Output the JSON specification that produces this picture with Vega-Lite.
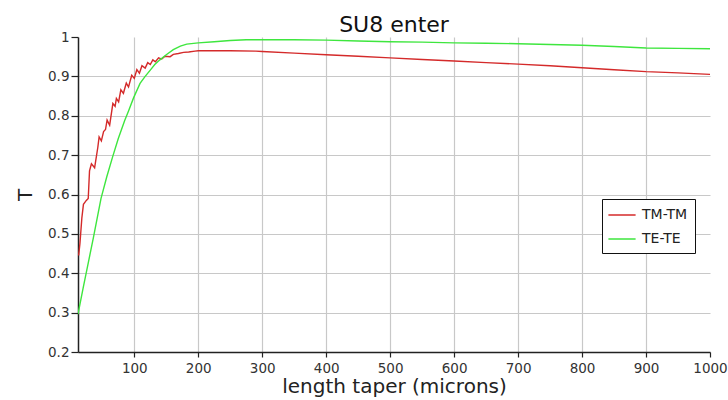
{
  "$schema": "https://vega.github.io/schema/vega-lite/v6.json",
  "width": 632,
  "height": 315,
  "autosize": {"type": "none"},
  "padding": {"left": 78, "top": 37, "right": 18, "bottom": 48},
  "background": "white",
  "title": {"text": "SU8 enter", "fontSize": 22, "font": "DejaVu Sans", "fontWeight": "normal", "color": "#111111", "offset": -7, "anchor": "middle"},
  "config": {
    "view": {"stroke": null},
    "font": "DejaVu Sans"
  },
  "data": {
    "values": [
      {"series": "TM-TM", "x": 13, "T": 0.445},
      {"series": "TM-TM", "x": 15, "T": 0.475},
      {"series": "TM-TM", "x": 18, "T": 0.54},
      {"series": "TM-TM", "x": 20.5, "T": 0.575},
      {"series": "TM-TM", "x": 25, "T": 0.585},
      {"series": "TM-TM", "x": 28, "T": 0.59},
      {"series": "TM-TM", "x": 30, "T": 0.66},
      {"series": "TM-TM", "x": 33, "T": 0.678},
      {"series": "TM-TM", "x": 38, "T": 0.668},
      {"series": "TM-TM", "x": 43, "T": 0.72},
      {"series": "TM-TM", "x": 45, "T": 0.746},
      {"series": "TM-TM", "x": 48.5, "T": 0.736},
      {"series": "TM-TM", "x": 52, "T": 0.76},
      {"series": "TM-TM", "x": 55, "T": 0.765},
      {"series": "TM-TM", "x": 57.5, "T": 0.789},
      {"series": "TM-TM", "x": 61.5, "T": 0.776},
      {"series": "TM-TM", "x": 66.5, "T": 0.831},
      {"series": "TM-TM", "x": 70, "T": 0.824},
      {"series": "TM-TM", "x": 72, "T": 0.844},
      {"series": "TM-TM", "x": 75.5, "T": 0.835},
      {"series": "TM-TM", "x": 79, "T": 0.866},
      {"series": "TM-TM", "x": 83, "T": 0.857},
      {"series": "TM-TM", "x": 87.5, "T": 0.883},
      {"series": "TM-TM", "x": 91, "T": 0.873},
      {"series": "TM-TM", "x": 96, "T": 0.903},
      {"series": "TM-TM", "x": 100, "T": 0.895},
      {"series": "TM-TM", "x": 104, "T": 0.917},
      {"series": "TM-TM", "x": 108, "T": 0.908},
      {"series": "TM-TM", "x": 112, "T": 0.927},
      {"series": "TM-TM", "x": 117, "T": 0.921},
      {"series": "TM-TM", "x": 121, "T": 0.935},
      {"series": "TM-TM", "x": 125, "T": 0.93},
      {"series": "TM-TM", "x": 129, "T": 0.942},
      {"series": "TM-TM", "x": 133, "T": 0.937},
      {"series": "TM-TM", "x": 138, "T": 0.947},
      {"series": "TM-TM", "x": 143, "T": 0.944},
      {"series": "TM-TM", "x": 148, "T": 0.951},
      {"series": "TM-TM", "x": 156, "T": 0.95},
      {"series": "TM-TM", "x": 161, "T": 0.956},
      {"series": "TM-TM", "x": 169, "T": 0.958},
      {"series": "TM-TM", "x": 177, "T": 0.961},
      {"series": "TM-TM", "x": 185, "T": 0.962},
      {"series": "TM-TM", "x": 195, "T": 0.964},
      {"series": "TM-TM", "x": 200, "T": 0.965},
      {"series": "TM-TM", "x": 250, "T": 0.965},
      {"series": "TM-TM", "x": 290, "T": 0.964},
      {"series": "TM-TM", "x": 300, "T": 0.963},
      {"series": "TM-TM", "x": 350, "T": 0.959},
      {"series": "TM-TM", "x": 400, "T": 0.955},
      {"series": "TM-TM", "x": 450, "T": 0.951},
      {"series": "TM-TM", "x": 500, "T": 0.947},
      {"series": "TM-TM", "x": 550, "T": 0.943},
      {"series": "TM-TM", "x": 600, "T": 0.939},
      {"series": "TM-TM", "x": 650, "T": 0.935},
      {"series": "TM-TM", "x": 700, "T": 0.931},
      {"series": "TM-TM", "x": 750, "T": 0.927},
      {"series": "TM-TM", "x": 800, "T": 0.922},
      {"series": "TM-TM", "x": 850, "T": 0.917},
      {"series": "TM-TM", "x": 900, "T": 0.912},
      {"series": "TM-TM", "x": 950, "T": 0.909},
      {"series": "TM-TM", "x": 1000, "T": 0.905},
      {"series": "TE-TE", "x": 12, "T": 0.296},
      {"series": "TE-TE", "x": 20, "T": 0.362},
      {"series": "TE-TE", "x": 29, "T": 0.434},
      {"series": "TE-TE", "x": 36, "T": 0.49},
      {"series": "TE-TE", "x": 42, "T": 0.54},
      {"series": "TE-TE", "x": 48, "T": 0.59},
      {"series": "TE-TE", "x": 57, "T": 0.645},
      {"series": "TE-TE", "x": 66, "T": 0.695},
      {"series": "TE-TE", "x": 75, "T": 0.742},
      {"series": "TE-TE", "x": 85, "T": 0.788},
      {"series": "TE-TE", "x": 91, "T": 0.812},
      {"series": "TE-TE", "x": 99, "T": 0.846},
      {"series": "TE-TE", "x": 109, "T": 0.882},
      {"series": "TE-TE", "x": 117, "T": 0.9},
      {"series": "TE-TE", "x": 125, "T": 0.916},
      {"series": "TE-TE", "x": 132, "T": 0.93},
      {"series": "TE-TE", "x": 140, "T": 0.942},
      {"series": "TE-TE", "x": 150, "T": 0.955},
      {"series": "TE-TE", "x": 161, "T": 0.968},
      {"series": "TE-TE", "x": 172, "T": 0.977},
      {"series": "TE-TE", "x": 182, "T": 0.982},
      {"series": "TE-TE", "x": 200, "T": 0.985},
      {"series": "TE-TE", "x": 225, "T": 0.988},
      {"series": "TE-TE", "x": 250, "T": 0.991},
      {"series": "TE-TE", "x": 275, "T": 0.993},
      {"series": "TE-TE", "x": 300, "T": 0.993},
      {"series": "TE-TE", "x": 350, "T": 0.993},
      {"series": "TE-TE", "x": 400, "T": 0.992},
      {"series": "TE-TE", "x": 450, "T": 0.99},
      {"series": "TE-TE", "x": 500, "T": 0.988},
      {"series": "TE-TE", "x": 550, "T": 0.987},
      {"series": "TE-TE", "x": 600, "T": 0.985},
      {"series": "TE-TE", "x": 650, "T": 0.984},
      {"series": "TE-TE", "x": 700, "T": 0.983},
      {"series": "TE-TE", "x": 750, "T": 0.981},
      {"series": "TE-TE", "x": 800, "T": 0.979},
      {"series": "TE-TE", "x": 850, "T": 0.976},
      {"series": "TE-TE", "x": 900, "T": 0.972},
      {"series": "TE-TE", "x": 950, "T": 0.971},
      {"series": "TE-TE", "x": 1000, "T": 0.97}
    ]
  },
  "mark": {"type": "line", "strokeWidth": 1.4, "clip": true},
  "encoding": {
    "x": {
      "field": "x",
      "type": "quantitative",
      "scale": {"domain": [12, 1000], "nice": false, "zero": false},
      "axis": {
        "title": "length taper (microns)",
        "values": [100, 200, 300, 400, 500, 600, 700, 800, 900, 1000],
        "format": "d",
        "grid": true,
        "gridColor": "#c8c8c8",
        "gridWidth": 1.2,
        "gridOpacity": {"condition": {"test": "datum.value >= 999", "value": 0}, "value": 1},
        "domainColor": "#222222",
        "domainWidth": 1.5,
        "tickColor": "#222222",
        "tickSize": 5,
        "tickWidth": 1.2,
        "labelFontSize": 13.5,
        "labelColor": "#333333",
        "labelPadding": 4,
        "labelFlush": false,
        "titleFontSize": 20,
        "titleFontWeight": "normal",
        "titleColor": "#222222",
        "titlePadding": 2
      }
    },
    "y": {
      "field": "T",
      "type": "quantitative",
      "scale": {"domain": [0.2, 1], "nice": false, "zero": false},
      "axis": {
        "title": "T",
        "values": [0.2, 0.3, 0.4, 0.5, 0.6, 0.7, 0.8, 0.9, 1],
        "format": "~g",
        "grid": true,
        "gridColor": "#c8c8c8",
        "gridWidth": 1.2,
        "gridOpacity": {"condition": {"test": "datum.value >= 0.99", "value": 0}, "value": 1},
        "domainColor": "#222222",
        "domainWidth": 1.5,
        "tickColor": "#222222",
        "tickSize": 7,
        "tickWidth": 1.2,
        "labelFontSize": 13.5,
        "labelColor": "#333333",
        "labelPadding": 2,
        "titleFontSize": 20,
        "titleFontWeight": "normal",
        "titleColor": "#222222",
        "titlePadding": 12,
        "titleAngle": -90
      }
    },
    "color": {
      "field": "series",
      "type": "nominal",
      "scale": {"domain": ["TM-TM", "TE-TE"], "range": ["#d42a2a", "#3ee63e"]},
      "legend": {
        "title": null,
        "orient": "none",
        "legendX": 524,
        "legendY": 162,
        "strokeColor": "#111111",
        "fillColor": "white",
        "padding": 7,
        "symbolType": "M-1.2,0H2.2",
        "symbolSize": 256,
        "symbolStrokeWidth": 1.5,
        "labelFontSize": 14,
        "labelColor": "#222222",
        "labelOffset": 15,
        "rowPadding": 8,
        "cornerRadius": 0
      }
    }
  }
}
